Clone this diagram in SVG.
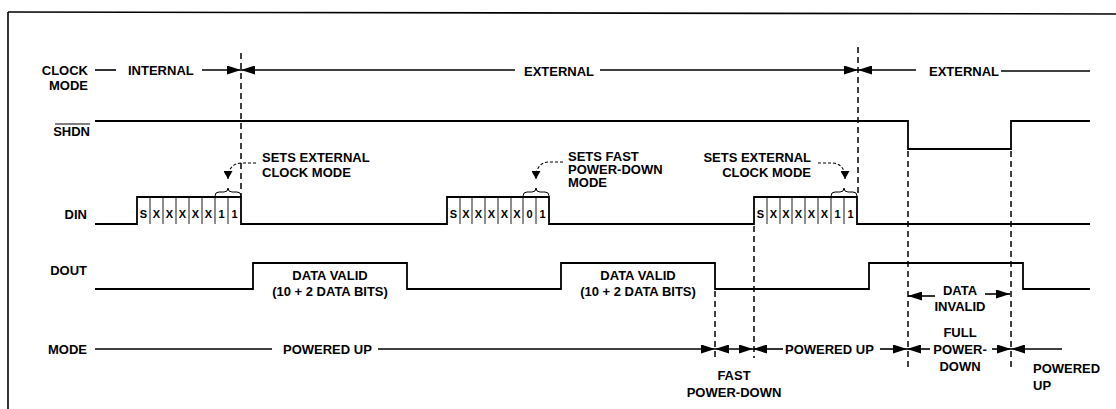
<svg xmlns="http://www.w3.org/2000/svg" width="1116" height="409" viewBox="0 0 1116 409">
<defs>
<marker id="ah" viewBox="0 0 14 9" refX="14" refY="4.5" markerWidth="14" markerHeight="9" markerUnits="userSpaceOnUse" orient="auto-start-reverse">
<path d="M0,0 L14,4.5 L0,9 z" fill="#000"/>
</marker>
<marker id="ahs" viewBox="0 0 8 9" refX="8" refY="4.5" markerWidth="8" markerHeight="9" markerUnits="userSpaceOnUse" orient="auto">
<path d="M0,0 L8,4.5 L0,9 z" fill="#000"/>
</marker>
</defs>
<style>
text{font-family:"Liberation Sans",Arial,sans-serif;font-weight:bold;font-size:13px;fill:#000}
.lab{text-anchor:end}
.mid{text-anchor:middle}
.bit{font-size:11px;text-anchor:middle}
.sig{fill:none;stroke:#000;stroke-width:1.8}
.ln{stroke:#000;stroke-width:1.6;fill:none}
.cell{stroke:#000;stroke-width:0.9}
.dash{stroke:#000;stroke-width:1.5;stroke-dasharray:6,4;fill:none}
.cdash{stroke:#000;stroke-width:1.1;stroke-dasharray:3,2;fill:none}
.brace{stroke:#000;stroke-width:1;fill:none}
</style>
<rect width="1116" height="409" fill="#fff"/>
<g id="frame">
<line x1="8" y1="12" x2="1116" y2="14" class="ln" stroke-width="2"/>
<line x1="8" y1="12" x2="8" y2="409" class="ln" stroke-width="2"/>
</g>
<g id="clock-mode">
<text class="lab" x="88" y="75">CLOCK</text>
<text class="lab" x="88" y="90">MODE</text>
<line x1="95" y1="70" x2="116" y2="70" class="ln"/>
<text x="128" y="75">INTERNAL</text>
<line x1="202" y1="70" x2="241" y2="70" class="ln" marker-end="url(#ah)"/>
<line x1="241" y1="70" x2="515" y2="70" class="ln" marker-start="url(#ah)"/>
<text x="524" y="76">EXTERNAL</text>
<line x1="600" y1="70" x2="858" y2="70" class="ln" marker-end="url(#ah)"/>
<line x1="858" y1="70" x2="916" y2="70" class="ln" marker-start="url(#ah)"/>
<text x="929" y="76">EXTERNAL</text>
<line x1="1001" y1="71" x2="1090" y2="71" class="ln"/>
</g>
<g id="shdn">
<text class="lab" x="90" y="136">SHDN</text>
<line x1="55" y1="124" x2="90" y2="124" stroke="#000" stroke-width="1.2"/>
<polyline class="sig" points="95,121 908,121 908,149 1011,149 1011,121 1090,121"/>
</g>
<g id="din">
<text class="lab" x="87" y="219">DIN</text>
<polyline class="sig" points="95,224 137,224 137,197 241,197 241,224 447,224 447,197 549,197 549,224 754,224 754,197 857,197 857,224 1090,224"/>
<g class="cell">
<line x1="150" y1="197" x2="150" y2="224"/><line x1="163" y1="197" x2="163" y2="224"/><line x1="176" y1="197" x2="176" y2="224"/><line x1="189" y1="197" x2="189" y2="224"/><line x1="202" y1="197" x2="202" y2="224"/><line x1="215" y1="197" x2="215" y2="224"/><line x1="228" y1="197" x2="228" y2="224"/>
<line x1="460" y1="197" x2="460" y2="224"/><line x1="472" y1="197" x2="472" y2="224"/><line x1="485" y1="197" x2="485" y2="224"/><line x1="498" y1="197" x2="498" y2="224"/><line x1="511" y1="197" x2="511" y2="224"/><line x1="523" y1="197" x2="523" y2="224"/><line x1="536" y1="197" x2="536" y2="224"/>
<line x1="767" y1="197" x2="767" y2="224"/><line x1="780" y1="197" x2="780" y2="224"/><line x1="792" y1="197" x2="792" y2="224"/><line x1="805" y1="197" x2="805" y2="224"/><line x1="818" y1="197" x2="818" y2="224"/><line x1="831" y1="197" x2="831" y2="224"/><line x1="844" y1="197" x2="844" y2="224"/>
</g>
<text class="bit" x="143.5" y="218">S</text><text class="bit" x="156.5" y="218">X</text><text class="bit" x="169.5" y="218">X</text><text class="bit" x="182.5" y="218">X</text><text class="bit" x="195.5" y="218">X</text><text class="bit" x="208.5" y="218">X</text><text class="bit" x="221.5" y="218">1</text><text class="bit" x="234.5" y="218">1</text>
<text class="bit" x="453.5" y="218">S</text><text class="bit" x="466" y="218">X</text><text class="bit" x="478.5" y="218">X</text><text class="bit" x="491.5" y="218">X</text><text class="bit" x="504.5" y="218">X</text><text class="bit" x="517" y="218">X</text><text class="bit" x="529.5" y="218">0</text><text class="bit" x="542.5" y="218">1</text>
<text class="bit" x="760.5" y="218">S</text><text class="bit" x="773.5" y="218">X</text><text class="bit" x="786" y="218">X</text><text class="bit" x="798.5" y="218">X</text><text class="bit" x="811.5" y="218">X</text><text class="bit" x="824.5" y="218">X</text><text class="bit" x="837.5" y="218">1</text><text class="bit" x="850.5" y="218">1</text>
<path class="brace" d="M215,196 q0,-4 4,-4 h5 q4,0 4,-4 q0,4 4,4 h5 q4,0 4,4"/>
<path class="brace" d="M523,196 q0,-4 4,-4 h5 q4,0 4,-4 q0,4 4,4 h5 q4,0 4,4"/>
<path class="brace" d="M831,196 q0,-4 4,-4 h5 q4,0 4,-4 q0,4 4,4 h5 q4,0 4,4"/>
</g>
<g id="notes">
<text x="262" y="162">SETS EXTERNAL</text>
<text x="262" y="177">CLOCK MODE</text>
<text x="568" y="161">SETS FAST</text>
<text x="568" y="174">POWER-DOWN</text>
<text x="568" y="187">MODE</text>
<text class="lab" x="811" y="162">SETS EXTERNAL</text>
<text class="lab" x="811" y="177">CLOCK MODE</text>
</g>
<g id="dout">
<text class="lab" x="87" y="275">DOUT</text>
<polyline class="sig" points="95,289 253,289 253,263 407,263 407,289 561,289 561,263 715,263 715,289 869,289 869,263 1023,263 1023,289 1090,289"/>
<text class="mid" x="330" y="280">DATA VALID</text>
<text class="mid" x="330" y="296">(10 + 2 DATA BITS)</text>
<text class="mid" x="638" y="280">DATA VALID</text>
<text class="mid" x="638" y="296">(10 + 2 DATA BITS)</text>
<text class="mid" x="960" y="295">DATA</text>
<text class="mid" x="960" y="311">INVALID</text>
</g>
<g id="mode">
<text class="lab" x="87" y="354">MODE</text>
<line x1="95" y1="349" x2="272" y2="349" class="ln"/>
<text x="283" y="354">POWERED UP</text>
<text x="785" y="354">POWERED UP</text>
<text class="mid" x="960" y="337">FULL</text>
<text class="mid" x="960" y="354">POWER-</text>
<text class="mid" x="960" y="371">DOWN</text>
<text class="mid" x="734" y="380">FAST</text>
<text class="mid" x="734" y="397">POWER-DOWN</text>
<text x="1033" y="373">POWERED</text>
<text x="1033" y="390">UP</text>
</g>
<g id="connectors">
<line class="dash" x1="241" y1="53" x2="241" y2="197"/>
<line class="dash" x1="858" y1="47" x2="858" y2="197"/>
<line class="dash" x1="754" y1="226" x2="754" y2="358"/>
<line class="dash" x1="715" y1="291" x2="715" y2="360"/>
<line class="dash" x1="908" y1="151" x2="908" y2="370"/>
<line class="dash" x1="1011" y1="151" x2="1011" y2="370"/>
<path class="cdash" d="M256,163 L241,163 Q228,164 228,179" marker-end="url(#ahs)"/>
<path class="cdash" d="M563,162 L548,162 Q536,163 536,179" marker-end="url(#ahs)"/>
<path class="cdash" d="M818,163 L833,163 Q845,164 845,179" marker-end="url(#ahs)"/>
<line x1="378" y1="349" x2="715" y2="349" class="ln" marker-end="url(#ah)"/>
<line x1="715" y1="349" x2="753" y2="349" class="ln" marker-start="url(#ah)" marker-end="url(#ah)"/>
<line x1="753" y1="349" x2="783" y2="349" class="ln" marker-start="url(#ah)"/>
<line x1="880" y1="349" x2="907" y2="349" class="ln" marker-end="url(#ah)"/>
<line x1="907" y1="349" x2="930" y2="349" class="ln" marker-start="url(#ah)"/>
<line x1="992" y1="349" x2="1011" y2="349" class="ln" marker-end="url(#ah)"/>
<line x1="1011" y1="349" x2="1062" y2="349" class="ln" marker-start="url(#ah)"/>
<line x1="908" y1="296" x2="935" y2="296" class="ln" marker-start="url(#ah)"/>
<line x1="985" y1="294" x2="1010" y2="294" class="ln" marker-end="url(#ah)"/>
</g>
</svg>
